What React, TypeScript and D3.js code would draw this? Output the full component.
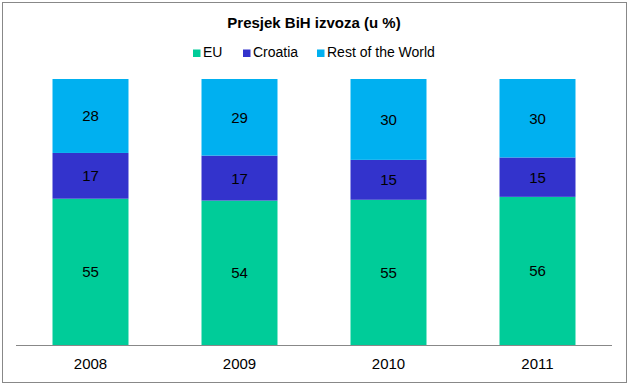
import React from 'react';
import * as d3 from 'd3';

// Presjek BiH izvoza (u %) - shares of exports by destination
const years = ['2008', '2009', '2010', '2011'];
const seriesNames = ['EU', 'Croatia', 'Rest of the World'];
const euValues = [55.0, 54.3, 54.6, 55.7];
const croatiaValues = [17.2, 16.9, 15.0, 14.8];
const restValues = [27.8, 28.8, 30.4, 29.5];
const seriesColors = ['#00CC99', '#3333CC', '#00B0F0'];

const W = 630;
const H = 385;
const margin = { top: 79, right: 18, bottom: 40, left: 16 };
const FONT = '"Liberation Sans", Arial, sans-serif';

type Row = { year: string; [key: string]: number | string };

const rows: Row[] = years.map((year, i) => ({
  year,
  EU: euValues[i],
  Croatia: croatiaValues[i],
  'Rest of the World': restValues[i],
}));

const App: React.FC = () => {
  const x = d3
    .scaleBand<string>()
    .domain(years)
    .range([margin.left, W - margin.right])
    .paddingInner(0.49)
    .paddingOuter(0.245);

  const y = d3
    .scaleLinear()
    .domain([0, 100])
    .range([H - margin.bottom, margin.top]);

  const color = d3.scaleOrdinal<string, string>().domain(seriesNames).range(seriesColors);

  const stacked = d3.stack<Row>().keys(seriesNames).value((d, k) => d[k] as number)(rows);

  // legend layout: marker + label, centred under the title
  const legendItems = [
    { name: 'EU', x: 193 },
    { name: 'Croatia', x: 243 },
    { name: 'Rest of the World', x: 317 },
  ];

  return (
    <svg
      width={W}
      height={H}
      style={{ position: 'absolute', left: 0, top: 0, background: '#fff' }}
      fontFamily={FONT}
    >
      <rect x={2.5} y={2.5} width={624} height={380} fill="#fff" stroke="#888" strokeWidth={1} />

      <text x={314} y={27.5} textAnchor="middle" fontSize={15} fontWeight="bold" fill="#000">
        Presjek BiH izvoza (u %)
      </text>

      <g>
        {legendItems.map((item) => (
          <g key={item.name}>
            <rect x={item.x} y={49.5} width={7.5} height={7.5} fill={color(item.name)} />
            <text x={item.x + 10} y={57.3} fontSize={14} fill="#000">
              {item.name}
            </text>
          </g>
        ))}
      </g>

      {stacked.map((layer) => (
        <g key={layer.key} fill={color(layer.key)}>
          {layer.map((seg) => {
            const yr = seg.data.year as string;
            const top = y(seg[1]);
            const bottom = y(seg[0]);
            return (
              <g key={yr}>
                <rect x={x(yr)} y={top} width={x.bandwidth()} height={bottom - top} />
                <text
                  x={(x(yr) as number) + x.bandwidth() / 2}
                  y={(top + bottom) / 2 + 5.5}
                  textAnchor="middle"
                  fontSize={15}
                  fill="#000"
                >
                  {Math.round(seg[1] - seg[0])}
                </text>
              </g>
            );
          })}
        </g>
      ))}

      <line
        x1={margin.left}
        x2={W - margin.right}
        y1={y(0) + 0.5}
        y2={y(0) + 0.5}
        stroke="#888"
        strokeWidth={1}
      />

      {years.map((yr) => (
        <text
          key={yr}
          x={(x(yr) as number) + x.bandwidth() / 2}
          y={369.3}
          textAnchor="middle"
          fontSize={15}
          fill="#000"
        >
          {yr}
        </text>
      ))}
    </svg>
  );
};

export default App;
